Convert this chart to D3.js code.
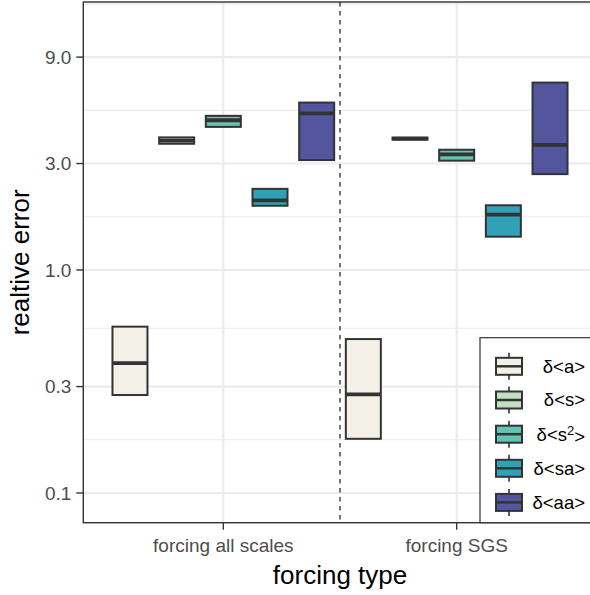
<!DOCTYPE html>
<html><head><meta charset="utf-8">
<script src="https://cdn.jsdelivr.net/npm/d3@7"></script>
<style>body{margin:0;background:#fff}svg{display:block;font-family:"Liberation Sans",Arial,Helvetica,sans-serif}</style>
</head><body>
<script>
const categories = ["forcing all scales", "forcing SGS"];
const seriesNames = ["a", "s", "s2", "sa", "aa"];
const seriesColors = ["#F3F1E7", "#C2E0C1", "#63C4B1", "#31A1B7", "#53559E"];
// per series: [forcing all scales, forcing SGS]
const q1Values     = [[0.275, 0.175], [3.68, 3.84], [4.38, 3.09], [1.94, 1.41], [3.11, 2.69]];
const medianValues = [[0.382, 0.277], [3.80, 3.88], [4.69, 3.30], [2.05, 1.77], [5.04, 3.64]];
const q3Values     = [[0.557, 0.490], [3.93, 3.92], [4.91, 3.46], [2.31, 1.95], [5.63, 6.92]];
const yTicks = [0.1, 0.3, 1.0, 3.0, 9.0];
const yMinor = [0.1 / Math.sqrt(3), Math.sqrt(0.03), Math.sqrt(0.3), Math.sqrt(3), Math.sqrt(27), 9 * Math.sqrt(3)];

const W = 590, H = 595;
const L = 83.3, R = 596.7, T = 2, B = 522.7;
const svg = d3.select("body").append("svg").attr("width", W).attr("height", H);

const x = d3.scaleLinear().domain([0.4, 2.6]).range([L, R]);
const y = d3.scaleLog().domain([0.0736, 15.9]).range([B, T]);

svg.append("defs").append("clipPath").attr("id", "pc")
  .append("rect").attr("x", L).attr("y", T).attr("width", R - L).attr("height", B - T);
const g = svg.append("g").attr("clip-path", "url(#pc)");

// grid
g.selectAll(".minor").data(yMinor).join("line")
  .attr("x1", L).attr("x2", R).attr("y1", d => y(d)).attr("y2", d => y(d))
  .attr("stroke", "#EBEBEB").attr("stroke-width", 1.1);
g.selectAll(".major").data(yTicks).join("line")
  .attr("x1", L).attr("x2", R).attr("y1", d => y(d)).attr("y2", d => y(d))
  .attr("stroke", "#EBEBEB").attr("stroke-width", 2.1);
g.selectAll(".majorx").data(categories).join("line")
  .attr("x1", (d, i) => x(i + 1)).attr("x2", (d, i) => x(i + 1)).attr("y1", T).attr("y2", B)
  .attr("stroke", "#EBEBEB").attr("stroke-width", 2.1);

// dashed separator
g.append("line").attr("x1", x(1.5)).attr("x2", x(1.5)).attr("y1", T).attr("y2", B)
  .attr("stroke", "#000").attr("stroke-width", 1.1).attr("stroke-dasharray", "4.5,4.5");

// boxes
const boxW = 0.15, dodge = 0.2;
seriesNames.forEach((s, j) => {
  categories.forEach((c, i) => {
    const cx = (i + 1) + (j - 2) * dodge;
    const x0 = x(cx - boxW / 2), x1 = x(cx + boxW / 2);
    g.append("rect").attr("x", x0).attr("width", x1 - x0)
      .attr("y", y(q3Values[j][i])).attr("height", y(q1Values[j][i]) - y(q3Values[j][i]))
      .attr("fill", seriesColors[j]).attr("stroke", "#333333").attr("stroke-width", 2);
    g.append("line").attr("x1", x0).attr("x2", x1)
      .attr("y1", y(medianValues[j][i])).attr("y2", y(medianValues[j][i]))
      .attr("stroke", "#333333").attr("stroke-width", 3.8);
  });
});

// panel border
svg.append("rect").attr("x", L).attr("y", T).attr("width", R - L).attr("height", B - T)
  .attr("fill", "none").attr("stroke", "#333333").attr("stroke-width", 1.4);

// y axis
const ya = svg.append("g");
ya.selectAll("line").data(yTicks).join("line")
  .attr("x1", L - 7).attr("x2", L).attr("y1", d => y(d)).attr("y2", d => y(d))
  .attr("stroke", "#333333").attr("stroke-width", 1.4);
ya.selectAll("text").data(yTicks).join("text")
  .attr("x", L - 12).attr("y", d => y(d)).attr("dy", "0.35em").attr("text-anchor", "end")
  .attr("fill", "#4D4D4D").attr("font-size", 19).text(d => d3.format(".1f")(d));

// x axis
const xa = svg.append("g");
xa.selectAll("line").data(categories).join("line")
  .attr("x1", (d, i) => x(i + 1)).attr("x2", (d, i) => x(i + 1)).attr("y1", B).attr("y2", B + 7)
  .attr("stroke", "#333333").attr("stroke-width", 1.4);
xa.selectAll("text").data(categories).join("text")
  .attr("x", (d, i) => x(i + 1)).attr("y", 552).attr("text-anchor", "middle")
  .attr("fill", "#4D4D4D").attr("font-size", 19).text(d => d);

// titles
svg.append("text").attr("x", (L + R) / 2).attr("y", 584).attr("text-anchor", "middle")
  .attr("font-size", 26).attr("fill", "#000").text("forcing type");
svg.append("text").attr("transform", `translate(29,${(T + B) / 2}) rotate(-90)`).attr("text-anchor", "middle")
  .attr("font-size", 26).attr("fill", "#000").text("realtive error");

// legend
const lg = svg.append("g");
lg.append("rect").attr("x", 480).attr("y", 337.7).attr("width", 130).attr("height", B - 337.7)
  .attr("fill", "#fff").attr("stroke", "#333333").attr("stroke-width", 1.2);
const keyY = [366.3, 400, 434.2, 468.3, 502.4];
seriesNames.forEach((s, j) => {
  const cy = keyY[j];
  lg.append("line").attr("x1", 509).attr("x2", 509).attr("y1", cy - 13.5).attr("y2", cy + 13.5)
    .attr("stroke", "#333333").attr("stroke-width", 1.6);
  lg.append("rect").attr("x", 496).attr("y", cy - 8.5).attr("width", 26).attr("height", 17)
    .attr("fill", seriesColors[j]).attr("stroke", "#333333").attr("stroke-width", 2);
  lg.append("line").attr("x1", 496).attr("x2", 522).attr("y1", cy).attr("y2", cy)
    .attr("stroke", "#333333").attr("stroke-width", 2.5);
  const t = lg.append("text").attr("x", 585).attr("y", cy).attr("dy", "0.35em")
    .attr("text-anchor", "end").attr("font-size", 18.5).attr("fill", "#000");
  if (s === "s2") {
    t.append("tspan").text("δ<s");
    t.append("tspan").attr("dy", "-0.45em").attr("font-size", 13).text("2");
    t.append("tspan").attr("dy", "0.45em").text(">");
  } else {
    t.text("δ<" + s + ">");
  }
});
</script>
</body></html>
